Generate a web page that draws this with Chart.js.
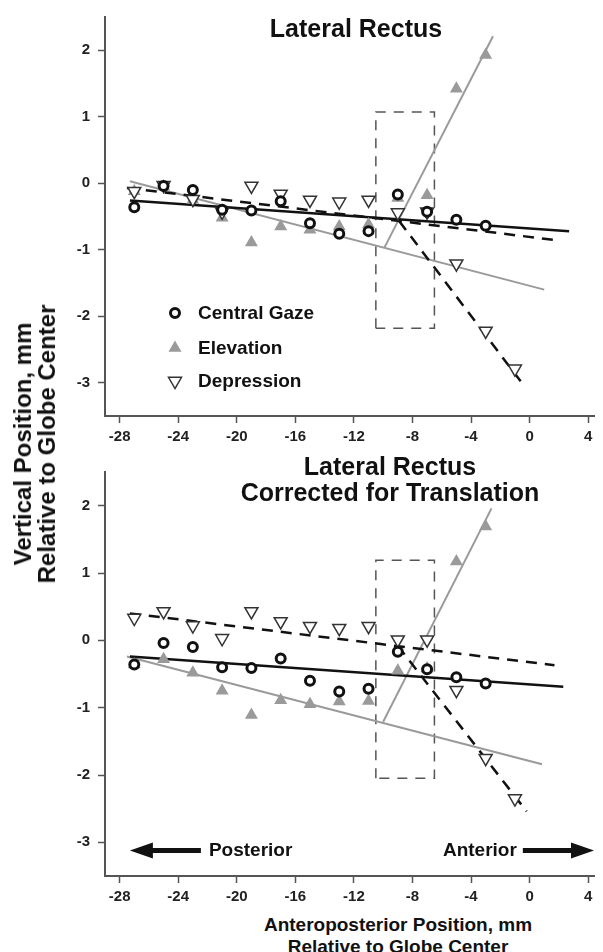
<!DOCTYPE html>
<html>
<head>
<meta charset="utf-8">
<script src="https://cdn.jsdelivr.net/npm/chart.js@4/dist/chart.umd.min.js"></script>
<style>
  body { margin: 0; background: #fff; }
  #wrap { position: relative; width: 603px; height: 952px; overflow: hidden;
          font-family: "Liberation Sans", Arial, Helvetica, sans-serif; font-weight: bold; color: #111; }
  canvas { position: absolute; left: 0; }
  .txt { position: absolute; white-space: nowrap; text-align: center; transform: translate(-50%, -50%); }
  .title { font-size: 25px; line-height: 26px; }
</style>
</head>
<body>
<div id="wrap">
  <canvas id="topChart" width="603" height="450" style="top:0"></canvas>
  <canvas id="bottomChart" width="603" height="460" style="top:450px"></canvas>

  <div class="txt title" style="left:356px; top:28px">Lateral Rectus</div>
  <div class="txt title" style="left:390px; top:479px">Lateral Rectus<br>Corrected for Translation</div>

  <div class="txt" style="left:35px; top:444px; font-size:24px; line-height:24px; transform: translate(-50%, -50%) rotate(-90deg)">Vertical Position, mm<br>Relative to Globe Center</div>
  <div class="txt" style="left:398px; top:936px; font-size:19px; line-height:22px">Anteroposterior Position, mm<br>Relative to Globe Center</div>
</div>

<script>
// axis ticks
const xTicks = [-28, -24, -20, -16, -12, -8, -4, 0, 4];
const yTicks = [-3, -2, -1, 0, 1, 2];

// sample positions (mm)
const positions = [-27, -25, -23, -21, -19, -17, -15, -13, -11, -9, -7, -5, -3];
const depressionPositions = [-27, -25, -23, -21, -19, -17, -15, -13, -11, -9, -7, -5, -3, -1];

// Lateral Rectus (raw)
const centralGaze = [-0.36, -0.04, -0.10, -0.40, -0.41, -0.27, -0.60, -0.76, -0.72, -0.17, -0.43, -0.55, -0.64];
const elevationTop = [-0.12, -0.05, -0.25, -0.52, -0.89, -0.65, -0.70, -0.65, -0.62, -0.22, -0.18, 1.42, 1.93];
const depressionTop = [-0.12, -0.03, -0.24, -0.43, -0.04, -0.16, -0.25, -0.28, -0.25, -0.44, -0.43, -1.21, -2.22, -2.79];

// Corrected for translation
const elevationBottom = [-0.36, -0.28, -0.48, -0.75, -1.11, -0.89, -0.95, -0.91, -0.90, -0.45, -0.42, 1.17, 1.69];
const depressionBottom = [0.33, 0.43, 0.22, 0.03, 0.43, 0.28, 0.21, 0.18, 0.21, 0.01, 0.01, -0.74, -1.75, -2.35];

// regression line end points [x0, x1], [y0, y1]
const fitX = {
  central: [-27.3, 2.7], depPost: [-27.5, 1.6], depAnt: [-8.9, -0.4],
  elevPost: [-27.3, 1.0], elevAnt: [-9.9, -2.5]
};
const fitTopY = {
  central: [-0.26, -0.72], depPost: [-0.07, -0.85], depAnt: [-0.57, -3.04],
  elevPost: [0.03, -1.60], elevAnt: [-0.96, 2.21]
};
const fitXBottom = {
  central: [-27.3, 2.3], depPost: [-27.3, 1.7], depAnt: [-9.0, -0.2],
  elevPost: [-27.5, 0.85], elevAnt: [-10.0, -2.6]
};
const fitBottomY = {
  central: [-0.24, -0.69], depPost: [0.40, -0.37], depAnt: [-0.08, -2.54],
  elevPost: [-0.24, -1.84], elevAnt: [-1.21, 1.96]
};

// dashed boxes
const boxX = [-10.5, -6.5];
const boxTopY = [-2.18, 1.07];
const boxBottomY = [-2.05, 1.19];

// direction arrows (bottom panel)
const arrowY = -3.12;
const posteriorArrow = [-22.45, -27.3];
const anteriorArrow = [-0.46, 4.4];

const FONT = '"Liberation Sans", Arial, Helvetica, sans-serif';
const GRAY = '#9a9a9a';

function pts(xs, ys) {
  return ys.map((y, i) => ({ x: xs[i], y: y }));
}
function boxPts(xs, ys) {
  return pts([xs[0], xs[0], xs[1], xs[1], xs[0]], [ys[0], ys[1], ys[1], ys[0], ys[0]]);
}

function buildDatasets(central, elev, dep, fx, fy, boxY) {
  return [
    { data: pts(positions, central), pointStyle: 'circle', pointRadius: 4.5, borderWidth: 3,
      borderColor: '#111', backgroundColor: '#fff', order: 0 },
    { data: pts(positions, elev), pointStyle: 'triangle', pointRadius: 7.5, borderWidth: 0,
      borderColor: GRAY, backgroundColor: GRAY, order: 1 },
    { data: pts(depressionPositions, dep), pointStyle: 'triangle', rotation: 180, pointRadius: 7.5,
      borderWidth: 1.5, borderColor: '#333', backgroundColor: '#fff', order: 0 },
    { data: pts(fx.central, fy.central), showLine: true, pointRadius: 0, borderColor: '#111', borderWidth: 2.5, order: 3 },
    { data: pts(fx.depPost, fy.depPost), showLine: true, pointRadius: 0, borderColor: '#111', borderWidth: 2.5,
      borderDash: [11, 8], order: 3 },
    { data: pts(fx.depAnt, fy.depAnt), showLine: true, pointRadius: 0, borderColor: '#111', borderWidth: 2.5,
      borderDash: [11, 8], order: 3 },
    { data: pts(fx.elevPost, fy.elevPost), showLine: true, pointRadius: 0, borderColor: GRAY, borderWidth: 2, order: 4 },
    { data: pts(fx.elevAnt, fy.elevAnt), showLine: true, pointRadius: 0, borderColor: GRAY, borderWidth: 2, order: 4 },
    { data: boxPts(boxX, boxY), showLine: true, pointRadius: 0, borderColor: '#555', borderWidth: 1.5,
      borderDash: [10, 8], order: 5 }
  ];
}

function baseOptions(padTop) {
  const tickFont = { family: FONT, size: 15, weight: 'bold' };
  const axisGrid = { display: true, drawOnChartArea: false, drawTicks: true, tickLength: 7, tickWidth: 1.5, tickColor: '#555' };
  return {
    responsive: false,
    animation: false,
    layout: { padding: { top: padTop, right: 3, left: 0, bottom: 0 } },
    plugins: { legend: { display: false }, tooltip: { enabled: false } },
    scales: {
      x: {
        type: 'linear', min: -29, max: 4.4,
        afterBuildTicks: s => { s.ticks = xTicks.map(v => ({ value: v })); },
        afterFit: s => { s.height = 34; },
        ticks: { font: tickFont, color: '#222', padding: 5, maxRotation: 0 },
        grid: axisGrid,
        border: { display: true, color: '#555', width: 2 }
      },
      y: {
        type: 'linear', min: -3.5, max: 2.5,
        afterBuildTicks: s => { s.ticks = yTicks.map(v => ({ value: v })); },
        afterFit: s => { s.width = 105; },
        ticks: { font: tickFont, color: '#222', padding: 8 },
        grid: axisGrid,
        border: { display: true, color: '#555', width: 2 }
      }
    }
  };
}

function drawMarker(ctx, kind, x, y) {
  ctx.save();
  if (kind === 'circle') {
    ctx.beginPath();
    ctx.arc(x, y, 4.5, 0, Math.PI * 2);
    ctx.lineWidth = 3; ctx.strokeStyle = '#111'; ctx.fillStyle = '#fff';
    ctx.fill(); ctx.stroke();
  } else {
    const r = 7.5, dir = kind === 'up' ? 1 : -1;
    ctx.beginPath();
    ctx.moveTo(x, y - dir * r);
    ctx.lineTo(x + r * 0.866, y + dir * r * 0.5);
    ctx.lineTo(x - r * 0.866, y + dir * r * 0.5);
    ctx.closePath();
    if (kind === 'up') { ctx.fillStyle = GRAY; ctx.fill(); }
    else { ctx.fillStyle = '#fff'; ctx.fill(); ctx.lineWidth = 1.5; ctx.strokeStyle = '#333'; ctx.stroke(); }
  }
  ctx.restore();
}

const legendPlugin = {
  id: 'panelLegend',
  afterDatasetsDraw(chart) {
    const { ctx, chartArea } = chart;
    const items = [['circle', 'Central Gaze', 296], ['up', 'Elevation', 331], ['down', 'Depression', 364]];
    ctx.save();
    ctx.font = 'bold 19px ' + FONT;
    ctx.fillStyle = '#111';
    ctx.textBaseline = 'middle';
    items.forEach(([kind, label, dy]) => {
      drawMarker(ctx, kind, chartArea.left + 70, chartArea.top + dy);
      ctx.fillText(label, chartArea.left + 93, chartArea.top + dy + 1);
    });
    ctx.restore();
  }
};

function drawArrow(ctx, x0, x1, y) {
  const dir = Math.sign(x1 - x0), head = 23, half = 8, shaft = 2.5;
  const hb = x1 - dir * head;
  ctx.beginPath();
  ctx.moveTo(x0, y - shaft);
  ctx.lineTo(hb, y - shaft);
  ctx.lineTo(hb, y - half);
  ctx.lineTo(x1, y);
  ctx.lineTo(hb, y + half);
  ctx.lineTo(hb, y + shaft);
  ctx.lineTo(x0, y + shaft);
  ctx.closePath();
  ctx.fill();
}

const arrowPlugin = {
  id: 'directionArrows',
  afterDatasetsDraw(chart) {
    const { ctx, scales } = chart;
    const y = scales.y.getPixelForValue(arrowY);
    const p0 = scales.x.getPixelForValue(posteriorArrow[0]);
    const p1 = scales.x.getPixelForValue(posteriorArrow[1]);
    const a0 = scales.x.getPixelForValue(anteriorArrow[0]);
    const a1 = scales.x.getPixelForValue(anteriorArrow[1]);
    ctx.save();
    ctx.fillStyle = '#111';
    drawArrow(ctx, p0, p1, y);
    drawArrow(ctx, a0, a1, y);
    ctx.font = 'bold 19px ' + FONT;
    ctx.textBaseline = 'middle';
    ctx.textAlign = 'left';
    ctx.fillText('Posterior', p0 + 8, y);
    ctx.textAlign = 'right';
    ctx.fillText('Anterior', a0 - 6, y);
    ctx.restore();
  }
};

new Chart(document.getElementById('topChart'), {
  type: 'scatter',
  data: { datasets: buildDatasets(centralGaze, elevationTop, depressionTop, fitX, fitTopY, boxTopY) },
  options: baseOptions(13),
  plugins: [legendPlugin]
});

new Chart(document.getElementById('bottomChart'), {
  type: 'scatter',
  data: { datasets: buildDatasets(centralGaze, elevationBottom, depressionBottom, fitXBottom, fitBottomY, boxBottomY) },
  options: baseOptions(22),
  plugins: [arrowPlugin]
});
</script>
</body>
</html>
